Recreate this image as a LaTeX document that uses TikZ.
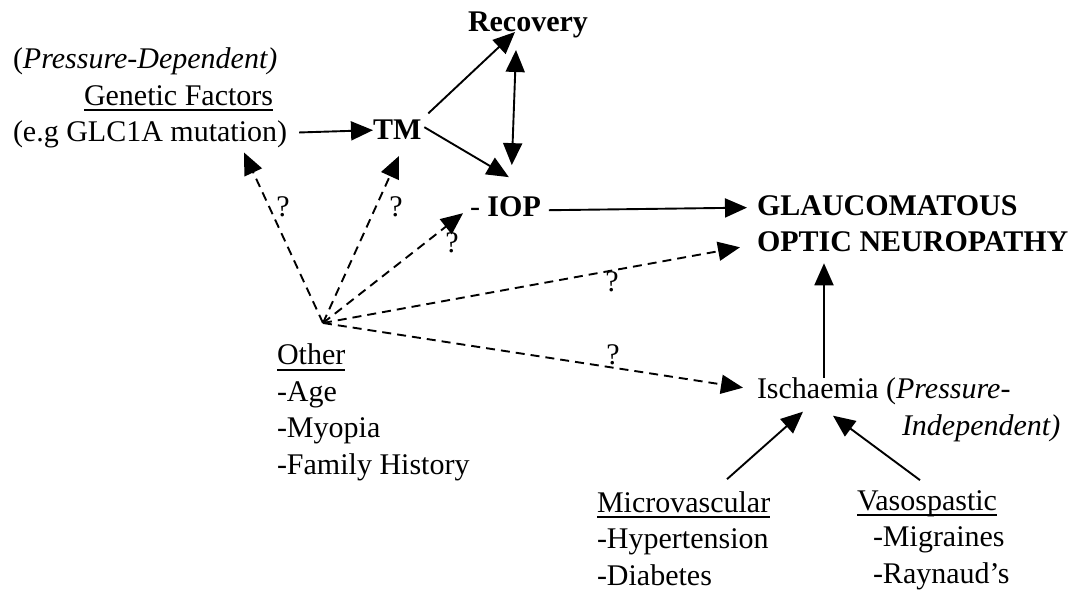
\documentclass[tikz,border=0pt]{standalone}
\usepackage{fontspec}
\setmainfont{Liberation Serif}
\usetikzlibrary{arrows.meta}
\newcommand{\undl}[1]{\setbox0\hbox{#1}\rlap{\rule[-6pt]{\wd0}{2pt}}\box0}

\begin{document}
\begin{tikzpicture}[x=1pt, y=-1pt, >={Triangle[length=22pt,width=19pt]},
  every node/.style={font=\fontsize{30}{36.5}\selectfont, inner sep=0pt, outer sep=0pt, anchor=base west},
  link/.style={->, line width=1.9pt},
  maybe/.style={->, line width=1.9pt, dash pattern=on 9pt off 6pt},
  qmark/.style={anchor=center}]
  \useasboundingbox (0,0) rectangle (1088,596);
  % factors and outcome (multi-line nodes sit on their last line)
  \node[align=left] (gen) at (13,142) {(\textit{Pressure-Dependent)}\\\hspace{71pt}\undl{Genetic Factors}\\(e.g GLC1A mutation)};
  \node (tm) at (373,140) {\textbf{TM}};
  \node (rec) at (468,32) {\textbf{Recovery}};
  \node (iop) at (470,217) {-\ \textbf{IOP}};
  \node[align=left] (gon) at (757,252) {\textbf{GLAUCOMATOUS}\\\textbf{OPTIC NEUROPATHY}};
  \node[align=left] (isch) at (757,435) {Ischaemia (\textit{Pressure-}\\\hspace{145pt}\textit{Independent)}};
  \node[align=left] (other) at (277,474) {\undl{Other}\\-Age\\-Myopia\\-Family History};
  \node[align=left] (micro) at (597,585) {\undl{Microvascular}\\-Hypertension\\-Diabetes};
  \node[align=left] (vaso) at (857,583) {\undl{Vasospastic}\\\hspace{16pt}-Migraines\\\hspace{16pt}-Raynaud’s};
  \coordinate (src) at (323,323);
  % solid links
  \draw[link] ([shift={(12,-16)}]gen.south east) -- (tm.west);
  \draw[link] ([shift={(7,-7)}]tm.north east) -- ([xshift=47pt]rec.base west);
  \draw[link, <->] ([shift={(48,18)}]rec.base west) -- ([shift={(-29,-32)}]iop.north east);
  \draw[link] ([shift={(3,-3)}]tm.east) -- ([shift={(-32,-20)}]iop.north east);
  \draw[link] ([shift={(8,3)}]iop.east) -- ([shift={(-10,12)}]gon.north west);
  \draw[link] ([xshift=67pt]isch.north west) -- ([shift={(67,11)}]gon.south west);
  \draw[link] ([shift={(130,-12)}]micro.north west) -- ([shift={(46,34)}]isch.north west);
  \draw[link] ([shift={(63,-10)}]vaso.north west) -- ([shift={(76,38)}]isch.north west);
  % uncertain links
  \draw[maybe] (src) -- ([shift={(231,4)}]gen.south west);
  \draw[maybe] (src) -- ([shift={(26,16)}]tm.south west);
  \draw[maybe] (src) -- ([shift={(-7,6)}]iop.west);
  \draw[maybe] (src) -- ([shift={(-17,-5)}]gon.south west);
  \draw[maybe] (src) -- ([shift={(-14,10)}]isch.north west);
  \node[qmark] (q1) at (283,207) {?};
  \node[qmark] (q2) at (396,207) {?};
  \node[qmark] (q3) at (452,243) {?};
  \node[qmark] (q4) at (612,282) {?};
  \node[qmark] (q5) at (613,355) {?};
\end{tikzpicture}
\end{document}
